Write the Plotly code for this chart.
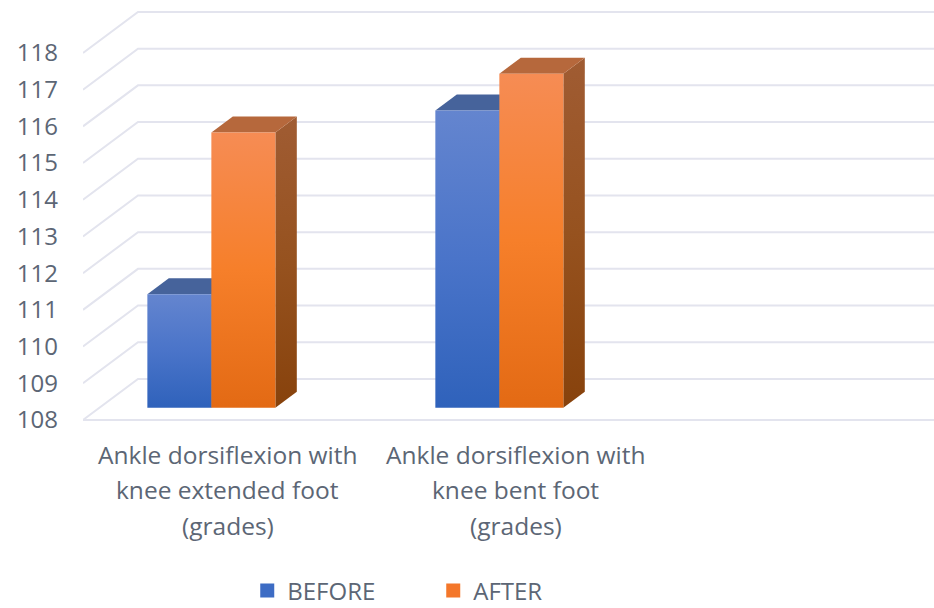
import plotly.graph_objects as go

categories = ["Ankle dorsiflexion with<br>knee extended foot<br>(grades)",
              "Ankle dorsiflexion with<br>knee bent foot<br>(grades)"]
before = [111.09, 116.1]
after = [115.5, 117.1]
y_ticks = list(range(108, 119))

FONT = "Open Sans"
TXT = "#5c6675"
GRID = "#e3e4ee"
PX_X = 851.0 / 2.955     # px per x unit
PX_Y = 36.7              # px per value unit
WALL_DX, WALL_DY = 55 / PX_X, 41 / PX_Y   # full floor depth, in data units
BAR_W = 64 / PX_X
D0, D1 = 0.30, 0.69       # bar's front and back depth (fraction of floor depth)


def proj(x, v, d):
    return x + d * WALL_DX, v + d * WALL_DY


def poly(pts, color, grad=None):
    xs = [p[0] for p in pts] + [pts[0][0]]
    ys = [p[1] for p in pts] + [pts[0][1]]
    kw = dict(fillcolor=color)
    if grad:
        kw = dict(fillgradient=dict(type="vertical", colorscale=[[0, grad[2]], [0.5, grad[1]], [1, grad[0]]]))
    return go.Scatter(x=xs, y=ys, mode="lines", line=dict(width=0), fill="toself",
                      hoverinfo="skip", showlegend=False, **kw)


def bar(x0, v, front, top, side=None):
    x1 = x0 + BAR_W
    b = y_ticks[0]
    out = []
    if side:
        out.append(poly([proj(x1, b, D0), proj(x1, b, D1), proj(x1, v, D1), proj(x1, v, D0)], side[0], side))
    out.append(poly([proj(x0, v, D0), proj(x1, v, D0), proj(x1, v, D1), proj(x0, v, D1)], top))
    out.append(poly([proj(x0, b, D0), proj(x1, b, D0), proj(x1, v, D0), proj(x0, v, D0)], front[0], front))
    return out


fig = go.Figure()

# walls: diagonal and back gridlines, plus the floor's front edge
gx, gy = [], []
X_L, X_R = -0.503, 2.452
for t in y_ticks:
    bx, by = proj(X_L, t, 1)
    gx += [X_L, bx, X_R, None]
    gy += [t, by, by, None]
gx += [X_L, X_R]
gy += [y_ticks[0], y_ticks[0]]
fig.add_trace(go.Scatter(x=gx, y=gy, mode="lines", line=dict(color=GRID, width=2),
                         hoverinfo="skip", showlegend=False))

BLUE_FRONT = ("#6485cf", "#4a74c9", "#2f62bb")
OR_FRONT = ("#f68c54", "#f67f2a", "#e36a14")
OR_SIDE = ("#a05c33", "#96521f", "#87420c")
BLUE_TOP, OR_TOP = "#46639b", "#b6683c"
BLUE_SIDE = ("#34507f", "#2d4a85", "#1d3f78")

for i in range(len(categories)):
    left = i - (BAR_W + 2 * D0 * WALL_DX)
    for tr in bar(left, before[i], BLUE_FRONT, BLUE_TOP, BLUE_SIDE):
        fig.add_trace(tr)
    for tr in bar(left + BAR_W, after[i], OR_FRONT, OR_TOP, OR_SIDE):
        fig.add_trace(tr)

# legend entries
for name, c in (("BEFORE", "#3d6cc4"), ("AFTER", "#f4772a")):
    fig.add_trace(go.Scatter(x=[None], y=[None], mode="markers", name=name,
                             marker=dict(symbol="square", size=14, color=c)))

# category labels, one annotation per line for the wide line spacing
for i, cat in enumerate(categories):
    for j, line in enumerate(cat.split("<br>")):
        fig.add_annotation(x=i, y=0, xref="x", yref="paper", yanchor="middle", yshift=-30 - 35.5 * j,
                           text=line, showarrow=False, font=dict(family=FONT, size=24.5, color=TXT))

fig.update_layout(
    width=934, height=608, autosize=False,
    margin=dict(l=83, r=0, t=8, b=184),
    plot_bgcolor="white", paper_bgcolor="white",
    font=dict(family=FONT, color=TXT),
    xaxis=dict(range=[X_L, X_R], showgrid=False, zeroline=False, showticklabels=False, ticks="", fixedrange=True),
    yaxis=dict(range=[107.89, 119.225], tickvals=y_ticks, showgrid=False, zeroline=False,
               ticks="", ticklabelstandoff=24, tickfont=dict(family=FONT, size=24, color=TXT)),
    legend=dict(orientation="h", x=0.193, xref="paper", y=0.028, yref="container",
                xanchor="left", yanchor="middle",
                font=dict(family=FONT, size=24, color=TXT), entrywidth=141, entrywidthmode="pixels",
                bgcolor="rgba(0,0,0,0)"),
)
# remove the page's default margin so the 934x608 figure fills the window exactly
fig.write_html("out.html", config={"displayModeBar": False},
               post_script="document.documentElement.style.overflow='hidden';document.body.style.margin='0';")
